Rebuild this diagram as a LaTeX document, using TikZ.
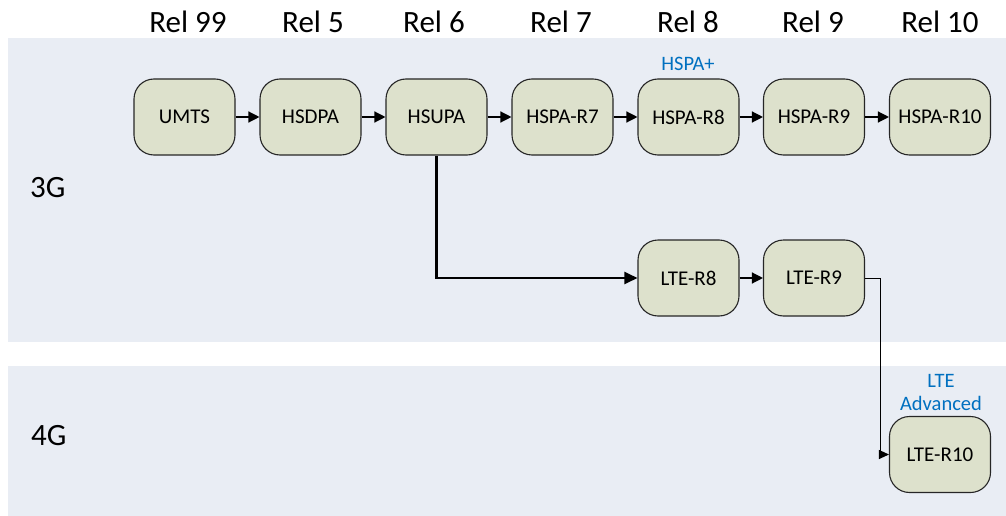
\documentclass[tikz,border=0pt]{standalone}
\usepackage{fontspec}
\setmainfont{Carlito}
\usetikzlibrary{arrows.meta}
\definecolor{bandfill}{RGB}{233,237,244}
\definecolor{boxfill}{RGB}{221,225,204}
\definecolor{noteblue}{RGB}{0,112,192}
\tikzset{
  relbox/.style={draw=black!85, line width=1.1pt, fill=boxfill, rounded corners=20pt,
    minimum width=101pt, minimum height=76pt, inner sep=0pt,
    font=\fontsize{21}{25}\selectfont},
  hdr/.style={font=\fontsize{31}{36}\selectfont, inner sep=0pt},
  gen/.style={font=\fontsize{31}{36}\selectfont, inner sep=0pt, anchor=west},
  note/.style={font=\fontsize{20.5}{24}\selectfont, text=noteblue, inner sep=0pt, align=center},
  flow/.style={line width=1.3pt, -{Triangle[length=11pt,width=11pt]}},
  branch/.style={line width=2.2pt, -{Triangle[length=13pt,width=12pt]}},
}
\begin{document}
\begin{tikzpicture}[x=1pt, y=-1pt]
\useasboundingbox (0,0) rectangle (1006,516);
% generation bands
\fill[bandfill] (8,38) rectangle (1006,342);
\fill[bandfill] (8,366) rectangle (1006,516);

% release headers
\node[hdr] (r99) at (188,22) {Rel 99};
\node[hdr] (r5)  at (313,22) {Rel 5};
\node[hdr] (r6)  at (434,22) {Rel 6};
\node[hdr] (r7)  at (561,22) {Rel 7};
\node[hdr] (r8)  at (688,22) {Rel 8};
\node[hdr] (r9)  at (813,22) {Rel 9};
\node[hdr] (r10) at (940,22) {Rel 10};

% generation labels
\node[gen] (g3) at (30,188) {3G};
\node[gen] (g4) at (31,436) {4G};

% 3G evolution
\node[relbox] (umts)   at (184.5,117) {UMTS};
\node[relbox] (hsdpa)  at (310.5,117) {HSDPA};
\node[relbox] (hsupa)  at (436.5,117) {HSUPA};
\node[relbox] (hspa7)  at (562.5,117) {HSPA-R7};
\node[relbox] (hspa8)  at (688.5,117) {HSPA-R8};
\node[relbox] (hspa9)  at (814,117) {HSPA-R9};
\node[relbox] (hspa10) at (940,117) {HSPA-R10};

% LTE line
\node[relbox] (lte8)  at (688.5,278) {LTE-R8};
\node[relbox] (lte9)  at (814,278) {LTE-R9};
\node[relbox] (lte10) at (940,454.5) {LTE-R10};

% annotations
\node[note] (hspaplus) at (688,64) {HSPA+};
\node[note] (lteadv) at (941,392) {LTE\\[-1pt]Advanced};

% connectors
\draw[flow] (umts) -- (hsdpa);
\draw[flow] (hsdpa) -- (hsupa);
\draw[flow] (hsupa) -- (hspa7);
\draw[flow] (hspa7) -- (hspa8);
\draw[flow] (hspa8) -- (hspa9);
\draw[flow] (hspa9) -- (hspa10);
\draw[branch] (hsupa.south) |- (lte8.west);
\draw[flow] (lte8) -- (lte9);
\coordinate (bend) at (880,278);
\draw[line width=1pt, -{Triangle[length=10pt,width=9pt]}] (lte9.east) -- (bend) |- (lte10.west);
\end{tikzpicture}
\end{document}
